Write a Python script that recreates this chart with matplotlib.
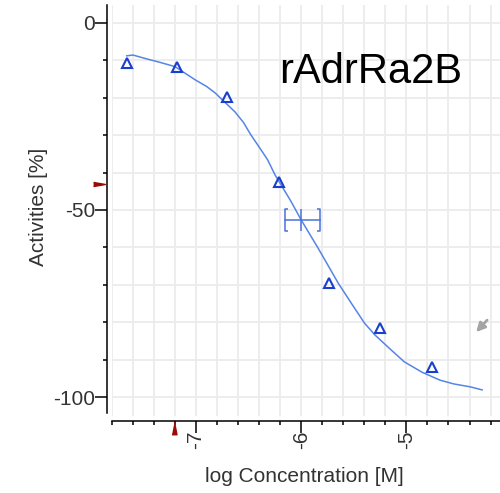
import numpy as np
import matplotlib
matplotlib.use('Agg')
import matplotlib.pyplot as plt
from matplotlib.path import Path
from matplotlib.transforms import blended_transform_factory

plt.rcParams['font.family'] = 'Liberation Sans'
plt.rcParams['font.size'] = 15
plt.rcParams['axes.unicode_minus'] = False

title = 'rAdrRa2B'
## measured points
log_conc = [-7.66, -7.18, -6.71, -6.21, -5.74, -5.25, -4.76]
activity = [-10.7, -11.8, -19.8, -42.5, -69.5, -81.5, -92.0]
## fitted curve
fit_x = [-7.66, -7.60, -7.46, -7.35, -7.20, -7.01, -6.90, -6.82, -6.63, -6.55,
         -6.48, -6.40, -6.32, -6.25, -6.10, -6.00, -5.90, -5.84, -5.75, -5.65,
         -5.52, -5.40, -5.30, -5.15, -5.02, -4.85, -4.68, -4.55, -4.39, -4.28]
fit_y = [-8.8, -8.6, -9.7, -10.5, -11.7, -15.2, -17.0, -18.7, -23.8, -26.6,
         -29.9, -33.2, -36.6, -40.6, -47.6, -52.7, -57.4, -60.2, -64.6, -69.5,
         -75.1, -80.2, -83.4, -87.3, -90.6, -93.4, -95.5, -96.5, -97.3, -98.1]
## IC50 with its interval
ic50 = -6.0
ic50_y = -52.7
ic50_low, ic50_high = -6.15, -5.82
## red flags on the axes
y_flag = -43.0
x_flag = -7.21

fig = plt.figure(figsize=(5, 4.93), dpi=100)
ax = fig.add_axes([0.224, 0.156, 0.776, 0.834])
ax.set_xlim(-7.78, -4.11)
ax.set_ylim(-105.1, 4.8)

ax.set_xticks([-7, -6, -5])
ax.set_xticks(np.arange(-7.8, -4.0, 0.2), minor=True)
ax.set_yticks([0, -50, -100])
ax.set_yticks(np.arange(-100, 1, 10), minor=True)
ax.grid(which='both', color='#ececec', lw=1.3)
ax.set_axisbelow(True)

for s in ['top', 'right']:
    ax.spines[s].set_visible(False)
ax.spines['left'].set_position(('outward', 3.6))
ax.spines['bottom'].set_position(('outward', 3.6))
ax.spines['left'].set_bounds(-104.3, 4.8)
ax.spines['left'].set_linewidth(1.1)
ax.spines['bottom'].set_linewidth(1.1)
ax.tick_params(which='major', length=8.5, width=1.1, color='black', labelcolor='#333333', pad=0)
ax.tick_params(which='minor', length=3, width=1.1, color='black')
ax.tick_params(axis='x', labelrotation=90, pad=-2)

ax.plot(fit_x, fit_y, color='#5585e5', lw=1.1)
ax.plot(log_conc, activity, '^', mfc='none', mec='#1a3fcf', mew=1.5, ms=6.5)

## IC50 bar with bracket ends
ic_col = '#4a72d8'
ax.plot([ic50_low, ic50_high], [ic50_y, ic50_y], color=ic_col, lw=1.1)
ax.plot(ic50, ic50_y, marker='|', ms=16, mew=1.1, color=ic_col)
left_br = Path([(0.3, 1), (0, 1), (0, -1), (0.3, -1)])
right_br = Path([(-0.3, 1), (0, 1), (0, -1), (-0.3, -1)])
ax.plot(ic50_low, ic50_y, marker=left_br, ms=16, mew=1.1, mec=ic_col, mfc='none', ls='none')
ax.plot(ic50_high, ic50_y, marker=right_br, ms=16, mew=1.1, mec=ic_col, mfc='none', ls='none')

## flags
tr_y = blended_transform_factory(ax.transAxes, ax.transData)
ax.plot(-0.034, y_flag, marker=[(-1, -0.35), (1, 0), (-1, 0.35)], ms=8.5, color='#9b0a0a',
        transform=tr_y, clip_on=False)
tr_x = blended_transform_factory(ax.transData, ax.transAxes)
ax.plot(x_flag, -0.029, marker=[(-0.4, -1), (0.4, -1), (0, 1)], ms=9, color='#9b0a0a',
        transform=tr_x, clip_on=False)

## grey arrow
ax.annotate('', xy=(-4.355, -83.2), xytext=(-4.215, -78.9),
            arrowprops=dict(arrowstyle='-|>', color='#a4a4a4', lw=2, mutation_scale=13))

ax.set_xlabel('log Concentration [M]', color='#333333')
ax.xaxis.set_label_coords(0.497, -0.125)
ax.set_ylabel('Activities [%]', color='#333333')
ax.yaxis.set_label_coords(-0.165, 0.508)

fig.text(279 / 500, 1 - 83 / 493, title, fontsize=30, va='baseline', ha='left')

plt.savefig('out.png', dpi=100)
